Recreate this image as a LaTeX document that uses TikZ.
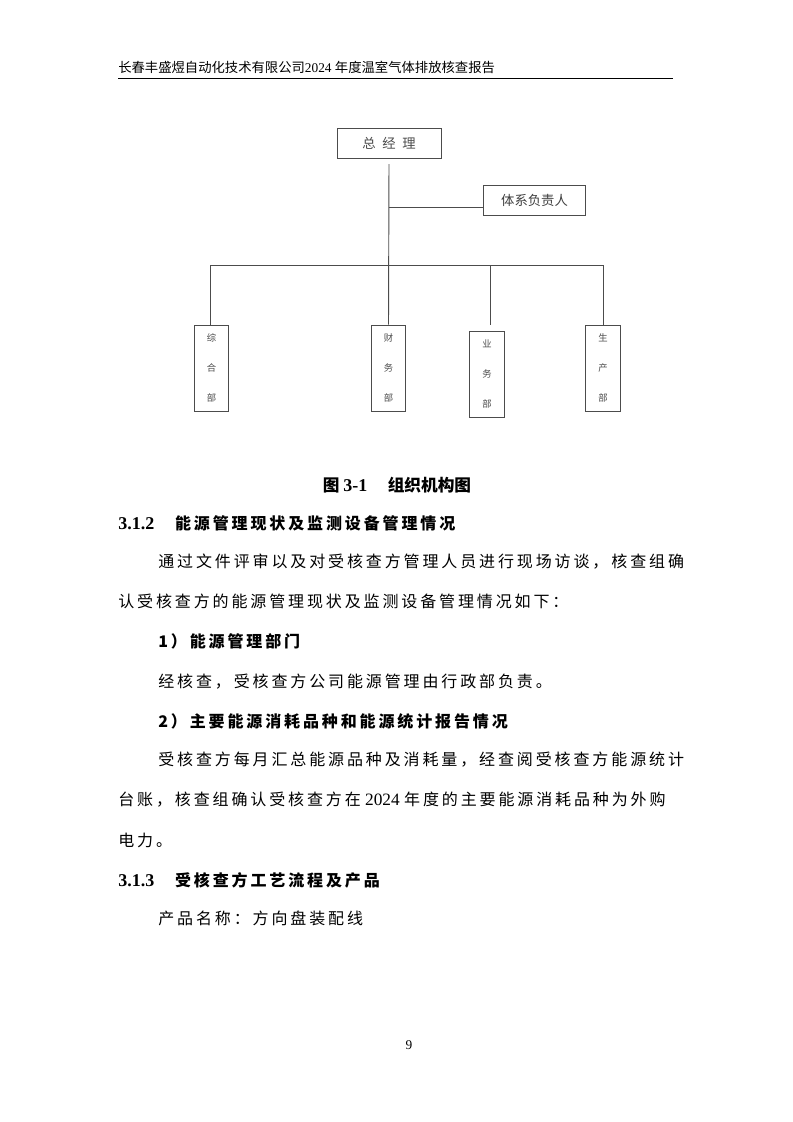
\documentclass[tikz,border=0pt]{standalone}
\usepackage{fontspec}
\setmainfont{Liberation Serif}
\newfontfamily\cjk[LetterSpace=18]{Noto Sans CJK SC}
\newfontfamily\cjkn{Noto Sans CJK SC}
\begin{document}
\begin{tikzpicture}[x=0.75pt,y=-0.75pt,
  box/.style={draw=black!70,line width=0.7pt,minimum width=#1,inner sep=0pt},
  conn/.style={draw=black!70,line width=0.7pt},
  body/.style={anchor=west,inner sep=0pt,font=\cjk\fontsize{12}{14}\selectfont},
  head/.style={anchor=west,inner sep=0pt,font=\cjk\fontsize{12}{14}\selectfont\bfseries},
  vlab/.style={font=\cjkn\fontsize{7}{8}\selectfont,align=center,text=black!70}]
\useasboundingbox (0,0) rectangle (793,1122);
\fill[white] (0,0) rectangle (793,1122);
% header
\node[anchor=west,inner sep=0pt,font=\cjkn\fontsize{10}{12}\selectfont] (hdr) at (118,67) {长春丰盛煜自动化技术有限公司{\rmfamily 2024 }年度温室气体排放核查报告};
\draw[line width=0.6pt] (118,78) -- (673,78);
% org chart
\node[box=78pt,minimum height=22.5pt,font=\cjkn\fontsize{10}{12}\selectfont,text=black!70] (gm) at (389,143) {总\hspace{0.5em}经\hspace{0.5em}理};
\node[box=77pt,minimum height=22.5pt,font=\cjkn\fontsize{10}{12}\selectfont,text=black!75] (tx) at (534.5,200) {体系负责人};
\coordinate (t) at (389,164);
\coordinate (j) at (389,207);
\node[box=26pt,minimum height=64.5pt] (d1) at (211.5,368) {};
\node[box=26pt,minimum height=64.5pt] (d2) at (388.5,368) {};
\node[box=26pt,minimum height=64.5pt] (d3) at (487,374) {};
\node[box=26pt,minimum height=64.5pt] (d4) at (603,368) {};
\foreach \n/\a/\b/\c in {d1/综/合/部,d2/财/务/部,d3/业/务/部,d4/生/产/部}{
  \node[vlab] at ([yshift=-10pt]\n.north) {\a};
  \node[vlab] at (\n.center) {\b};
  \node[vlab] at ([yshift=10pt]\n.south) {\c};
}
\draw[conn] (t) -- (d2.north);
\draw[conn] (j) -- (j -| tx.west);
\draw[conn] (210,265) -- (603,265);
\draw[conn] (210,265) -- (210,325);
\draw[conn] (490,265) -- (490,325);
\draw[conn] (603,265) -- (d4.north);
% text
\node[anchor=center,inner sep=0pt,font=\cjkn\fontsize{12.5}{14}\selectfont\bfseries] (cap) at (397,485) {图 {\rmfamily\bfseries\fontsize{13.5}{14}\selectfont 3-1}\quad\ 组织机构图};
\node[head] (s1) at (118,523) {{\rmfamily\bfseries\fontsize{13.5}{14}\selectfont 3.1.2}\hspace{1.3em}能源管理现状及监测设备管理情况};
\node[body] (p1) at (158,562) {通过文件评审以及对受核查方管理人员进行现场访谈，核查组确};
\node[body] (p2) at (118,601) {认受核查方的能源管理现状及监测设备管理情况如下：};
\node[head] (s2) at (158,641) {1）能源管理部门};
\node[body] (p3) at (158,682) {经核查，受核查方公司能源管理由行政部负责。};
\node[head] (s3) at (158,721) {2）主要能源消耗品种和能源统计报告情况};
\node[body] (p4) at (158,760) {受核查方每月汇总能源品种及消耗量，经查阅受核查方能源统计};
\node[body] (p5) at (118,800) {台账，核查组确认受核查方在{\rmfamily\fontsize{13}{14}\selectfont\ 2024\ }年度的主要能源消耗品种为外购};
\node[body] (p6) at (118,840) {电力。};
\node[head] (s4) at (118,880) {{\rmfamily\bfseries\fontsize{13.5}{14}\selectfont 3.1.3}\hspace{1.3em}受核查方工艺流程及产品};
\node[body] (p7) at (158,918) {产品名称：方向盘装配线};
\node[font=\fontsize{10}{12}\selectfont] (pg) at (409,1045) {9};
\end{tikzpicture}
\end{document}
